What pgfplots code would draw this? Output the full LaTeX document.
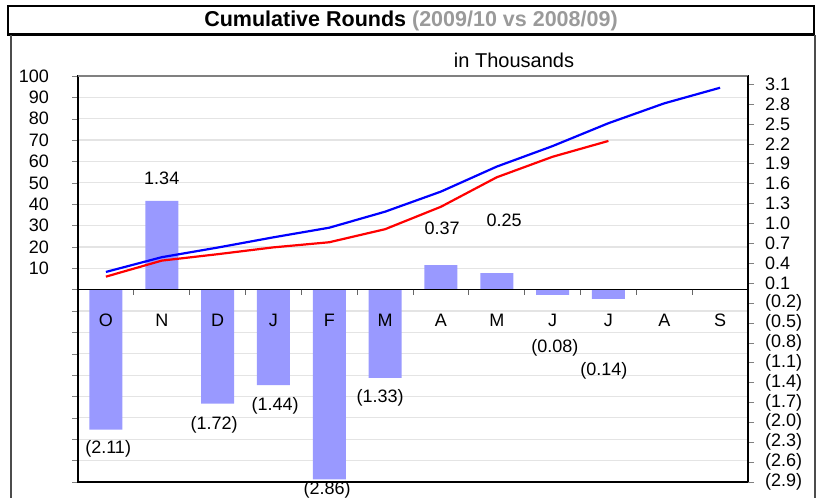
\documentclass[border=0pt]{standalone}
\usepackage{fontspec}
\setmainfont{Liberation Sans}
\usepackage{pgfplots}
\pgfplotsset{compat=1.18}
\definecolor{barc}{HTML}{9999FF}
\definecolor{gridc}{HTML}{E4E4E4}
\definecolor{titlegray}{HTML}{9A9A9A}
\pgfplotsset{myax/.style={scale only axis, width=335pt, height=203pt,
  at={(39pt,7.5pt)}, anchor=south west, xmin=-0.5, xmax=11.5,
  /pgf/number format/assume math mode=true,
  tick label style={font=\fontsize{9pt}{10pt}\selectfont},
  tick align=outside, major tick length=3pt}}
\begin{document}
\begin{tikzpicture}
\begin{scope}[x=0.5pt,y=0.5pt]
\draw[line width=1.2pt] (8,491) rectangle (814,462.5);
\node at (411,476.5) {\fontsize{10.75pt}{12pt}\selectfont\bfseries Cumulative Rounds \textcolor{titlegray}{(2009/10 vs 2008/09)}};
\draw[line width=1pt, black!70] (11,-10) -- (11,461.5);
\draw[line width=1pt, black!70] (815,-10) -- (815,461.5);
\node at (514,437) {\fontsize{10pt}{12pt}\selectfont in Thousands};
\end{scope}
% axis 1: left scale, grid
\begin{axis}[myax, ymin=-90, ymax=100,
  ytick={-90,-80,-70,-60,-50,-40,-30,-20,-10,0,10,20,30,40,50,60,70,80,90,100},
  yticklabels={,,,,,,,,,,10,20,30,40,50,60,70,80,90,100},
  ytick pos=left, xtick=\empty,
  ymajorgrids, grid style={gridc, line width=0.6pt},
  axis line style={black, line width=0.6pt},
  yticklabel style={xshift=-8pt}]
\draw[gray, line width=0.6pt] (rel axis cs:0,1) -- (rel axis cs:1,1);
\end{axis}
% axis 2: right scale, bars
\begin{axis}[myax, ymin=-2.9, ymax=3.222, clip=false,
  axis y line*=right, axis x line=none,
  axis line style={black, line width=0.6pt},
  ytick={-2.9,-2.6,-2.3,-2.0,-1.7,-1.4,-1.1,-0.8,-0.5,-0.2,0.1,0.4,0.7,1.0,1.3,1.6,1.9,2.2,2.5,2.8,3.1},
  yticklabels={(2.9),(2.6),(2.3),(2.0),(1.7),(1.4),(1.1),(0.8),(0.5),(0.2),0.1,0.4,0.7,1.0,1.3,1.6,1.9,2.2,2.5,2.8,3.1},
  yticklabel style={xshift=2pt},
  ybar, bar width=16.5pt]
\addplot[fill=barc, draw=none] coordinates {(0,-2.11) (1,1.34) (2,-1.72) (3,-1.44) (4,-2.86) (5,-1.33) (6,0.37) (7,0.25) (8,-0.08) (9,-0.14)};
\draw[black, line width=0.7pt] (axis cs:-0.5,0) -- (axis cs:11.5,0);
\pgfplotsinvokeforeach{0.5,1.5,2.5,3.5,4.5,5.5,6.5,7.5,8.5,9.5,10.5}{\draw[black!60, line width=0.5pt] (axis cs:#1,0) -- (axis cs:#1,-0.085);}
\begin{scope}[font=\fontsize{9pt}{10pt}\selectfont]
\node at (axis cs:0,-0.457) {O};
\node at (axis cs:1,-0.457) {N};
\node at (axis cs:2,-0.457) {D};
\node at (axis cs:3,-0.457) {J};
\node at (axis cs:4,-0.457) {F};
\node at (axis cs:5,-0.457) {M};
\node at (axis cs:6,-0.457) {A};
\node at (axis cs:7,-0.457) {M};
\node at (axis cs:8,-0.457) {J};
\node at (axis cs:9,-0.457) {J};
\node at (axis cs:10,-0.457) {A};
\node at (axis cs:11,-0.457) {S};
\node at (axis cs:1.0,1.68) {1.34};
\node at (axis cs:0.04,-2.40) {(2.11)};
\node at (axis cs:1.94,-2.04) {(1.72)};
\node at (axis cs:3.03,-1.75) {(1.44)};
\node at (axis cs:3.96,-3.02) {(2.86)};
\node at (axis cs:4.91,-1.63) {(1.33)};
\node at (axis cs:6.02,0.93) {0.37};
\node at (axis cs:7.13,1.04) {0.25};
\node at (axis cs:8.04,-0.88) {(0.08)};
\node at (axis cs:8.92,-1.23) {(0.14)};
\end{scope}
\end{axis}
% axis 3: lines
\begin{axis}[myax, ymin=-90, ymax=100, hide axis]
\addplot[color=blue, line width=1.1pt] coordinates {(0,8.3)(1,15.2)(2,19.7)(3,24.5)(4,29.0)(5,36.5)(6,45.9)(7,57.6)(8,67.2)(9,77.9)(10,87.2)(11,94.5)};
\addplot[color=red, line width=1.1pt] coordinates {(0,6.1)(1,13.6)(2,16.6)(3,19.8)(4,22.2)(5,28.3)(6,38.8)(7,52.6)(8,62.2)(9,69.6)};
\end{axis}
\pgfresetboundingbox
\path[use as bounding box] (0,0) rectangle (408.5pt,248.5pt);
\end{tikzpicture}
\end{document}
